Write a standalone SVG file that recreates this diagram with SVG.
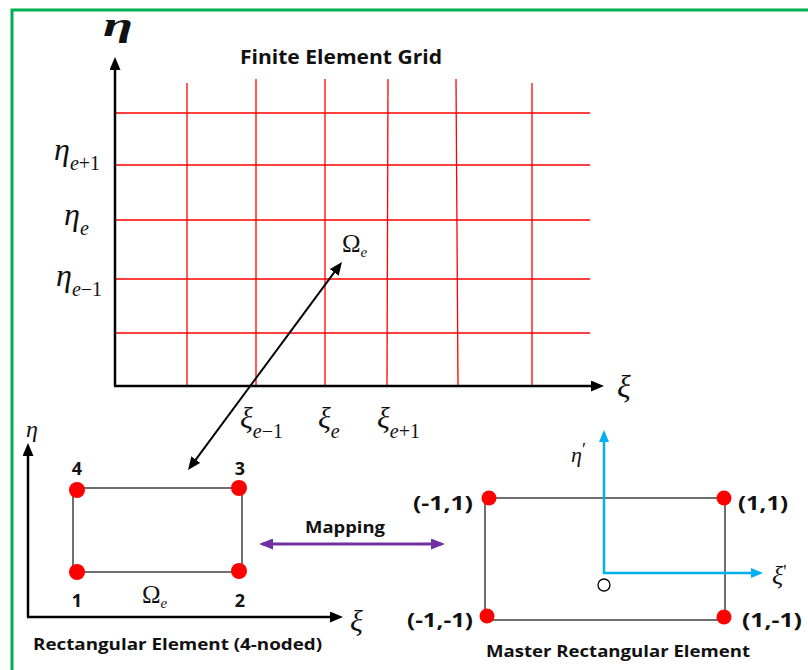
<svg xmlns="http://www.w3.org/2000/svg" width="808" height="670" viewBox="0 0 808 670">
<style>
.bold{font-family:"Open Sans","Liberation Sans",Arial,sans-serif;font-weight:bold;fill:#111}
.m{font-family:"Liberation Serif","Times New Roman",serif;font-style:italic;fill:#111}
.up{font-style:normal}
.grid{stroke:#FF0000;stroke-width:1.3;fill:none}
.ax{stroke:#000;stroke-width:2.5;fill:none}
.box{stroke:#222;stroke-width:1.3;fill:none}
.dot{fill:#FF0000}
</style>
<defs>
<marker id="ab" markerUnits="userSpaceOnUse" markerWidth="13" markerHeight="11" refX="9" refY="5.5" orient="auto-start-reverse" viewBox="0 0 13 11"><path d="M0,0 L13,5.5 L0,11 z" fill="#000"/></marker>
<marker id="ap" markerUnits="userSpaceOnUse" markerWidth="14" markerHeight="11" refX="10" refY="5.5" orient="auto-start-reverse" viewBox="0 0 14 11"><path d="M0,0 L14,5.5 L0,11 z" fill="#7030A0"/></marker>
<marker id="ac" markerUnits="userSpaceOnUse" markerWidth="12" markerHeight="10" refX="9" refY="5" orient="auto-start-reverse" viewBox="0 0 12 10"><path d="M0,0 L12,5 L0,10 z" fill="#00B0F0"/></marker>
</defs>
<rect x="0" y="0" width="808" height="670" fill="#fff"/>
<rect x="12" y="10" width="820" height="700" fill="none" stroke="#00B050" stroke-width="3"/>

<g id="grid">
<g class="grid">
<line x1="115" y1="113" x2="590" y2="113"/>
<line x1="115" y1="165" x2="590" y2="165"/>
<line x1="115" y1="220" x2="590" y2="220"/>
<line x1="115" y1="279" x2="590" y2="279"/>
<line x1="115" y1="333" x2="590" y2="333"/>
<line x1="187" y1="83" x2="187" y2="386"/>
<line x1="256" y1="79" x2="256" y2="386"/>
<line x1="325" y1="79" x2="325" y2="386"/>
<line x1="388" y1="79" x2="387" y2="386"/>
<line x1="456" y1="79" x2="458" y2="386"/>
<line x1="532" y1="83" x2="532" y2="386"/>
</g>
<text class="bold" x="240" y="64" font-size="20" textLength="202" lengthAdjust="spacingAndGlyphs">Finite Element Grid</text>
<text class="m" x="103" y="36" font-size="34" font-weight="bold" textLength="30" lengthAdjust="spacingAndGlyphs">η</text>
<text class="m" x="54" y="160" font-size="32">η<tspan font-size="20" dy="10">e<tspan class="up">+1</tspan></tspan></text>
<text class="m" x="64" y="225" font-size="32">η<tspan font-size="20" dy="10">e</tspan></text>
<text class="m" x="56" y="286" font-size="32">η<tspan font-size="20" dy="10">e<tspan class="up">−1</tspan></tspan></text>
<text class="m" x="342" y="252" font-size="25"><tspan class="up">Ω</tspan><tspan font-size="15" dy="5">e</tspan></text>
<text class="m" x="240" y="428" font-size="30">ξ<tspan font-size="20" dy="10">e<tspan class="up">−1</tspan></tspan></text>
<text class="m" x="318" y="428" font-size="30">ξ<tspan font-size="20" dy="10">e</tspan></text>
<text class="m" x="377" y="428" font-size="30">ξ<tspan font-size="20" dy="10">e<tspan class="up">+1</tspan></tspan></text>
<text class="m" x="617" y="397" font-size="32">ξ</text>
</g>

<g id="rect-element">
<rect class="box" x="73" y="488" width="169" height="84"/>
<circle class="dot" cx="77" cy="490" r="8"/>
<circle class="dot" cx="239" cy="488" r="8"/>
<circle class="dot" cx="77" cy="572" r="8"/>
<circle class="dot" cx="239" cy="571" r="8"/>
<text class="bold" x="77" y="475" font-size="18" text-anchor="middle">4</text>
<text class="bold" x="240" y="475" font-size="18" text-anchor="middle">3</text>
<text class="bold" x="77" y="607" font-size="18" text-anchor="middle">1</text>
<text class="bold" x="240" y="607" font-size="18" text-anchor="middle">2</text>
<text class="m" x="142" y="603" font-size="25"><tspan class="up">Ω</tspan><tspan font-size="15" dy="5">e</tspan></text>
<text class="m" x="26" y="437" font-size="24">η</text>
<text class="m" x="350" y="631" font-size="30">ξ</text>
<text class="bold" x="33" y="650" font-size="16" textLength="289" lengthAdjust="spacingAndGlyphs">Rectangular Element (4-noded)</text>
</g>

<g id="master-element">
<rect class="box" x="485" y="498" width="240" height="122"/>
<circle class="dot" cx="489" cy="498" r="7.5"/>
<circle class="dot" cx="724" cy="498" r="7.5"/>
<circle class="dot" cx="487" cy="616" r="7.5"/>
<circle class="dot" cx="724" cy="617" r="7.5"/>
<text class="bold" x="413" y="510" font-size="20" textLength="60" lengthAdjust="spacingAndGlyphs">(-1,1)</text>
<text class="bold" x="738" y="510" font-size="20" textLength="50" lengthAdjust="spacingAndGlyphs">(1,1)</text>
<text class="bold" x="407" y="627" font-size="20" textLength="66" lengthAdjust="spacingAndGlyphs">(-1,-1)</text>
<text class="bold" x="742" y="627" font-size="20" textLength="60" lengthAdjust="spacingAndGlyphs">(1,-1)</text>
<text class="bold" x="486" y="657" font-size="16" textLength="264" lengthAdjust="spacingAndGlyphs">Master Rectangular Element</text>
<circle cx="604" cy="585" r="6" fill="#fff" stroke="#000" stroke-width="1.3"/>
<text class="m" x="571" y="462" font-size="22">η<tspan class="up" font-size="18" dy="-6">′</tspan></text>
<text class="m" x="772" y="584" font-size="26">ξ<tspan class="up" font-size="18" dy="-6">'</tspan></text>
</g>

<g id="mapping-label">
<text class="bold" x="305" y="533" font-size="16" textLength="80" lengthAdjust="spacingAndGlyphs">Mapping</text>
</g>

<g id="connectors">
<line class="ax" x1="115" y1="386" x2="115" y2="61" marker-end="url(#ab)"/>
<line class="ax" x1="114" y1="386" x2="600" y2="386" marker-end="url(#ab)"/>
<line class="ax" x1="28" y1="617" x2="28" y2="447" marker-end="url(#ab)"/>
<line class="ax" x1="27" y1="617" x2="339" y2="617" marker-end="url(#ab)"/>
<line stroke="#000" stroke-width="2" x1="190.4" y1="466.8" x2="339.6" y2="265.2" marker-start="url(#ab)" marker-end="url(#ab)"/>
<line stroke="#7030A0" stroke-width="3" x1="263" y1="544" x2="441" y2="544" marker-start="url(#ap)" marker-end="url(#ap)"/>
<line stroke="#00B0F0" stroke-width="2.5" x1="604" y1="574" x2="604" y2="433" marker-end="url(#ac)"/>
<line stroke="#00B0F0" stroke-width="2.5" x1="603" y1="573" x2="760" y2="573" marker-end="url(#ac)"/>
</g>
</svg>
